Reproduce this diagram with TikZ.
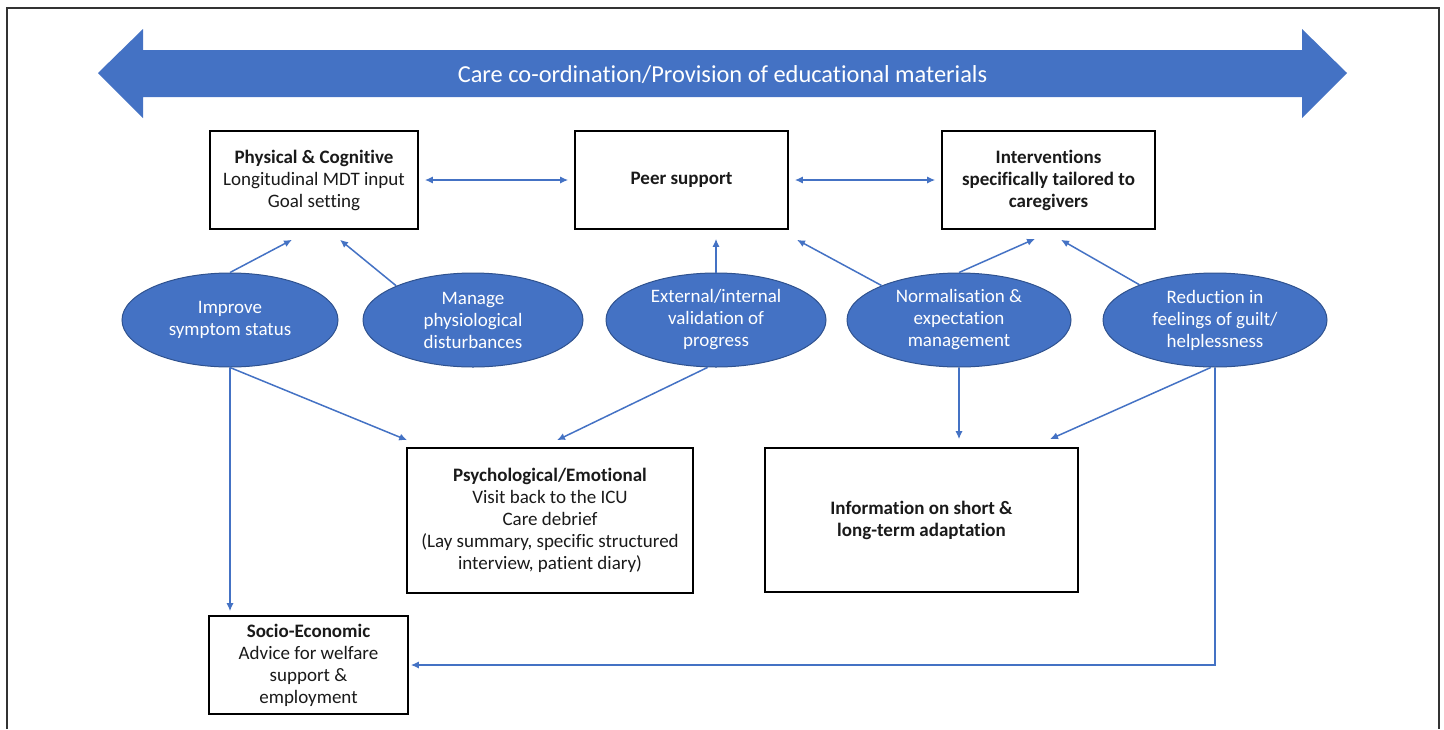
\documentclass[tikz,border=0pt]{standalone}
\usepackage{fontspec}
\setmainfont[Ligatures=NoCommon]{Carlito}
\usetikzlibrary{calc,arrows.meta,shapes.geometric}
\definecolor{blu}{HTML}{4472C4}
\definecolor{bluedge}{HTML}{2F528F}
\definecolor{txt}{HTML}{1A1A1A}
\begin{document}
\begin{tikzpicture}[x=0.5pt,y=-0.5pt,
 box/.style={draw=black,line width=0.8pt,fill=white,inner sep=0pt,align=center,text=txt,font=\fontsize{9.5}{11}\selectfont},
 ell/.style={ellipse,fill=blu,draw=bluedge,line width=0.5pt,inner sep=0pt,minimum height=47pt,align=center,text=white,font=\fontsize{9.5}{11}\selectfont},
 conn/.style={draw=blu,line width=0.75pt,-{Latex[length=4pt,width=3.6pt]}},
 bconn/.style={draw=blu,line width=0.75pt,{Latex[length=4pt,width=3.6pt]}-{Latex[length=4pt,width=3.6pt]},shorten <=3pt,shorten >=3pt}]
\useasboundingbox (0,0) rectangle (1444,729);
\draw[line width=0.8pt,draw=black!80] (7,729) -- (7,8) -- (1439,8) -- (1439,729);

% big double arrow
\fill[blu] (98,73) -- (143,29) -- (143,50) -- (1302,50) -- (1302,29) -- (1347,73) -- (1302,118) -- (1302,97) -- (143,97) -- (143,118) -- cycle;
\node[text=white,font=\fontsize{12.2}{14}\selectfont] (band) at (722.5,75) {Care co-ordination/Provision of educational materials};

% boxes
\node[box,minimum width=104pt,minimum height=49pt] (phys) at (314,180) {\textbf{Physical \& Cognitive}\\Longitudinal MDT input\\Goal setting};
\node[box,minimum width=106.5pt,minimum height=49pt] (peer) at (681.5,180) {\textbf{Peer support}};
\node[box,minimum width=106.5pt,minimum height=49pt] (intv) at (1048.5,180) {\textbf{Interventions}\\\textbf{specifically tailored to}\\\textbf{caregivers}};
\node[box,minimum width=143pt,minimum height=72.5pt] (psy) at (550,520.5) {\textbf{Psychological/Emotional}\\Visit back to the ICU\\Care debrief\\(Lay summary, specific structured\\interview, patient diary)};
\node[box,minimum width=156.5pt,minimum height=72pt] (info) at (921.5,520) {\textbf{Information on short \&}\\\textbf{long-term adaptation}};
\node[box,minimum width=99.5pt,minimum height=49pt] (socio) at (308.5,665) {\textbf{Socio-Economic}\\Advice for welfare\\support \&\\employment};

% ellipses
\node[ell,minimum width=108pt] (imp) at (230,320) {Improve\\symptom status};
\node[ell,minimum width=110pt] (man) at (473,320) {Manage\\physiological\\disturbances};
\node[ell,minimum width=110pt] (ext) at (716,320) {External/internal\\validation of\\progress};
\node[ell,minimum width=112pt] (nor) at (959,320) {Normalisation \&\\expectation\\management};
\node[ell,minimum width=112pt] (red) at (1215,320) {Reduction in\\feelings of guilt/\\helplessness};

% connectors
\draw[bconn] (phys.east) -- (peer.west);
\draw[bconn] (peer.east) -- (intv.west);
\draw[conn] (imp.north) -- ($(phys.south)+(-22,10)$);
\draw[conn] (man.156) -- ($(phys.south)+(26,10)$);
\draw[conn] (ext.north) -- ($(peer.south)+(34.5,9)$);
\draw[conn] (nor.156) -- ($(peer.south)+(115.5,10)$);
\draw[conn] (nor.north) -- ($(intv.south)+(-13.5,9)$);
\draw[conn] (red.155) -- ($(intv.south)+(12.5,10)$);
\draw[conn] (imp.south) -- ($(psy.north west)+(1,-7)$);
\draw[conn,shorten >=2pt] (imp.south) -- (imp.south |- socio.north);
\draw[conn] (ext.260) -- ($(psy.north)+(7,-7)$);
\draw[conn,shorten >=4pt] (nor.south) -- (nor.south |- info.north);
\draw[conn] (red.265) -- ($(info.north)+(128.5,-8)$);
\draw[conn,shorten >=1pt] (red.south) |- (socio.east);
\end{tikzpicture}
\end{document}
